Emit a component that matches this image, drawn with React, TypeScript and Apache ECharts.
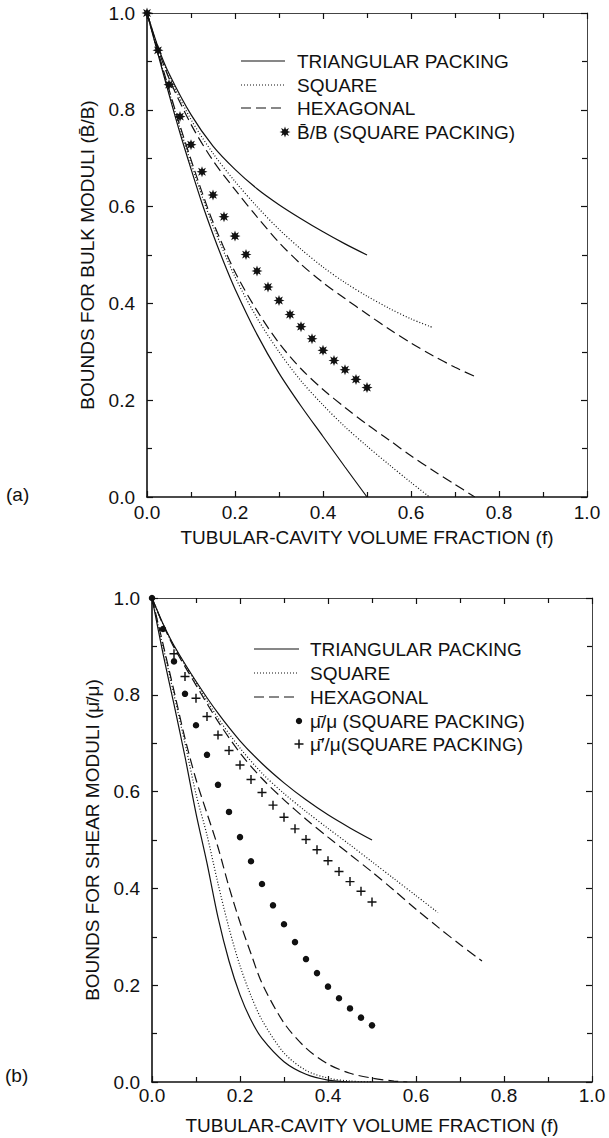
import React, { useEffect, useRef } from "react";
import * as echarts from "echarts";

// ---------- DATA ----------
const axisMin = 0;
const axisMax = 1;
const axisInterval = 0.2;

// (a) Bulk moduli bounds: [volume fraction f, ratio]
const bulkTriangularUpper = [[0, 1], [0.025, 0.93], [0.05, 0.875], [0.1, 0.79], [0.15, 0.725], [0.2, 0.677], [0.25, 0.637], [0.3, 0.604], [0.35, 0.575], [0.4, 0.548], [0.45, 0.523], [0.5, 0.5]];
const bulkSquareUpper = [[0, 1], [0.025, 0.928], [0.05, 0.87], [0.1, 0.78], [0.15, 0.71], [0.2, 0.652], [0.25, 0.6], [0.3, 0.553], [0.35, 0.512], [0.4, 0.475], [0.45, 0.443], [0.5, 0.415], [0.55, 0.39], [0.6, 0.368], [0.65, 0.35]];
const bulkHexagonalUpper = [[0, 1], [0.025, 0.926], [0.05, 0.865], [0.1, 0.77], [0.15, 0.695], [0.2, 0.635], [0.25, 0.579], [0.3, 0.526], [0.35, 0.481], [0.4, 0.443], [0.45, 0.41], [0.5, 0.378], [0.55, 0.347], [0.6, 0.318], [0.65, 0.292], [0.7, 0.268], [0.75, 0.247]];
const bulkTriangularLower = [[0, 1], [0.025, 0.915], [0.05, 0.832], [0.075, 0.752], [0.1, 0.678], [0.125, 0.607], [0.15, 0.543], [0.175, 0.484], [0.2, 0.43], [0.25, 0.336], [0.3, 0.256], [0.35, 0.188], [0.4, 0.125], [0.45, 0.062], [0.5, 0]];
const bulkSquareLower = [[0, 1], [0.025, 0.918], [0.05, 0.838], [0.075, 0.762], [0.1, 0.69], [0.125, 0.622], [0.15, 0.56], [0.2, 0.455], [0.25, 0.37], [0.3, 0.3], [0.35, 0.24], [0.4, 0.19], [0.45, 0.145], [0.5, 0.105], [0.55, 0.067], [0.6, 0.03], [0.642, 0]];
const bulkHexagonalLower = [[0, 1], [0.025, 0.92], [0.05, 0.842], [0.075, 0.767], [0.1, 0.697], [0.125, 0.63], [0.15, 0.568], [0.2, 0.465], [0.25, 0.385], [0.3, 0.318], [0.35, 0.265], [0.4, 0.222], [0.45, 0.185], [0.5, 0.15], [0.55, 0.118], [0.6, 0.085], [0.65, 0.055], [0.7, 0.026], [0.745, 0]];
const bulkPointF = [0, 0.025, 0.05, 0.075, 0.1, 0.125, 0.15, 0.175, 0.2, 0.225, 0.25, 0.275, 0.3, 0.325, 0.35, 0.375, 0.4, 0.425, 0.45, 0.475, 0.5];
const bulkSquarePacking = [1.0, 0.923, 0.852, 0.786, 0.728, 0.672, 0.624, 0.579, 0.539, 0.501, 0.467, 0.434, 0.406, 0.377, 0.352, 0.327, 0.303, 0.282, 0.263, 0.243, 0.226];

// (b) Shear moduli bounds
const shearTriangularUpper = [[0, 1], [0.025, 0.947], [0.05, 0.902], [0.1, 0.828], [0.15, 0.762], [0.2, 0.705], [0.25, 0.658], [0.3, 0.618], [0.35, 0.583], [0.4, 0.552], [0.45, 0.525], [0.5, 0.5]];
const shearSquareUpper = [[0, 1], [0.025, 0.946], [0.05, 0.9], [0.1, 0.825], [0.15, 0.752], [0.2, 0.69], [0.25, 0.638], [0.3, 0.596], [0.35, 0.559], [0.4, 0.524], [0.45, 0.49], [0.5, 0.455], [0.55, 0.42], [0.6, 0.385], [0.65, 0.35]];
const shearHexagonalUpper = [[0, 1], [0.025, 0.945], [0.05, 0.898], [0.1, 0.82], [0.15, 0.745], [0.2, 0.68], [0.25, 0.627], [0.3, 0.583], [0.35, 0.543], [0.4, 0.506], [0.45, 0.47], [0.5, 0.434], [0.55, 0.396], [0.6, 0.357], [0.65, 0.32], [0.7, 0.284], [0.75, 0.25]];
const shearTriangularLower = [[0, 1], [0.025, 0.885], [0.05, 0.78], [0.075, 0.672], [0.1, 0.555], [0.125, 0.452], [0.15, 0.34], [0.175, 0.25], [0.2, 0.18], [0.225, 0.128], [0.25, 0.09], [0.3, 0.042], [0.35, 0.016], [0.4, 0.004], [0.45, 0]];
const shearSquareLower = [[0, 1], [0.025, 0.9], [0.05, 0.8], [0.075, 0.7], [0.1, 0.595], [0.125, 0.51], [0.15, 0.41], [0.175, 0.318], [0.2, 0.24], [0.225, 0.178], [0.25, 0.128], [0.3, 0.06], [0.35, 0.024], [0.4, 0.008], [0.45, 0.002], [0.5, 0]];
const shearHexagonalLower = [[0, 1], [0.025, 0.905], [0.05, 0.808], [0.075, 0.71], [0.1, 0.625], [0.125, 0.555], [0.15, 0.485], [0.175, 0.403], [0.2, 0.33], [0.225, 0.265], [0.25, 0.204], [0.3, 0.122], [0.35, 0.07], [0.4, 0.037], [0.45, 0.018], [0.5, 0.008], [0.55, 0.002], [0.58, 0]];
const shearDotF = [0, 0.025, 0.05, 0.075, 0.1, 0.125, 0.15, 0.175, 0.2, 0.225, 0.25, 0.275, 0.3, 0.325, 0.35, 0.375, 0.4, 0.425, 0.45, 0.475, 0.5];
const shearSquarePacking = [1.0, 0.936, 0.869, 0.802, 0.737, 0.676, 0.614, 0.558, 0.506, 0.456, 0.409, 0.365, 0.326, 0.289, 0.254, 0.225, 0.197, 0.173, 0.152, 0.133, 0.117];
const shearCrossF = [0.05, 0.075, 0.1, 0.125, 0.15, 0.175, 0.2, 0.225, 0.25, 0.275, 0.3, 0.325, 0.35, 0.375, 0.4, 0.425, 0.45, 0.475, 0.5];
const shearPrimeSquarePacking = [0.885, 0.838, 0.793, 0.755, 0.717, 0.685, 0.655, 0.625, 0.598, 0.572, 0.547, 0.523, 0.501, 0.48, 0.457, 0.435, 0.414, 0.394, 0.372];

const legendA = ["TRIANGULAR PACKING", "SQUARE", "HEXAGONAL", "B\u0304/B (SQUARE PACKING)"];
const legendB = ["TRIANGULAR PACKING", "SQUARE", "HEXAGONAL", "\u03BC\u0304/\u03BC (SQUARE PACKING)", "\u03BC\u0304\u2032/\u03BC(SQUARE PACKING)"];
const xTitle = "TUBULAR-CAVITY VOLUME FRACTION (f)";
const yTitleA = "BOUNDS FOR BULK MODULI (B\u0304/B)";
const yTitleB = "BOUNDS FOR SHEAR MODULI (\u03BC\u0304/\u03BC)";

// ---------- STYLE ----------
const INK = "#111111";
const FONT = '"Liberation Sans", Arial, Helvetica, sans-serif';
const FS = 19;
const DOTTED = [1, 2];
const DASHED = [10, 5];

function starPoints(cx: number, cy: number, ro: number, ri: number, n = 8) {
  const pts: number[][] = [];
  for (let i = 0; i < 2 * n; i++) {
    const r = i % 2 === 0 ? ro : ri;
    const a = (Math.PI * i) / n - Math.PI / 2;
    pts.push([cx + r * Math.cos(a), cy + r * Math.sin(a)]);
  }
  return pts;
}
const starSymbol =
  "path://" +
  starPoints(10, 10, 10, 5)
    .map((p, i) => (i === 0 ? "M" : "L") + p[0].toFixed(2) + "," + p[1].toFixed(2))
    .join("") +
  "Z";
const crossSymbol = "path://M4.2,0h1.6v4.2h4.2v1.6h-4.2v4.2h-1.6v-4.2h-4.2v-1.6h4.2z";

const fmt = (v: number) => v.toFixed(1);

function tickCommon(gridIndex: number) {
  return {
    type: "value",
    gridIndex,
    min: axisMin,
    max: axisMax,
    interval: axisInterval,
    splitLine: { show: false },
    minorSplitLine: { show: false },
    axisTick: { show: true, inside: true, length: 6, lineStyle: { color: INK, width: 1.2 } },
    minorTick: { show: true, splitNumber: 2, length: 5, lineStyle: { color: INK, width: 1.2 } },
  };
}

function xAxes(gridIndex: number, nameGap: number, labelMargin: number) {
  const common = tickCommon(gridIndex);
  return [
    {
      ...common,
      position: "bottom",
      name: xTitle,
      nameLocation: "middle",
      nameGap,
      nameTextStyle: { fontSize: FS, color: INK, fontFamily: FONT },
      axisLine: { show: true, onZero: false, lineStyle: { color: INK, width: 1.6 } },
      axisLabel: { show: true, fontSize: FS, color: INK, fontFamily: FONT, margin: labelMargin, formatter: fmt },
    },
    {
      ...common,
      position: "top",
      axisLine: { show: true, onZero: false, lineStyle: { color: "#444", width: 1 } },
      axisLabel: { show: false },
    },
  ];
}

function yAxes(gridIndex: number, title: string) {
  const common = tickCommon(gridIndex);
  return [
    {
      ...common,
      position: "left",
      name: title,
      nameLocation: "middle",
      nameGap: 50,
      nameRotate: 90,
      nameTextStyle: { fontSize: FS, color: INK, fontFamily: FONT },
      axisLine: { show: true, onZero: false, lineStyle: { color: INK, width: 1.6 } },
      axisLabel: { show: true, fontSize: FS, color: INK, fontFamily: FONT, margin: 12, formatter: fmt },
    },
    {
      ...common,
      position: "right",
      axisLine: { show: true, onZero: false, lineStyle: { color: "#444", width: 1 } },
      axisLabel: { show: false },
    },
  ];
}

function curve(name: string, data: number[][], axis: number, dash: any) {
  return {
    name,
    type: "line",
    xAxisIndex: axis,
    yAxisIndex: axis,
    data,
    symbol: "none",
    smooth: 0.3,
    clip: true,
    lineStyle: { color: INK, width: 1.2, type: dash },
  };
}

function pairs(xs: number[], ys: number[]) {
  return xs.map((x, i) => [x, ys[i]]);
}

function legendGraphics(
  labels: string[],
  x1: number,
  x2: number,
  textX: number,
  rows: number[],
  markers: string[]
) {
  const g: any[] = [];
  const dashes = [null, DOTTED, DASHED];
  for (let i = 0; i < 3; i++) {
    g.push({
      type: "line",
      shape: { x1, y1: rows[i], x2, y2: rows[i] },
      style: { stroke: INK, lineWidth: 1.2, lineDash: dashes[i] || undefined },
    });
  }
  markers.forEach((m, j) => {
    const y = rows[3 + j];
    if (m === "star") {
      g.push({ type: "polygon", shape: { points: starPoints(x2, y, 5.5, 2.8) }, style: { fill: INK } });
    } else if (m === "dot") {
      g.push({ type: "circle", shape: { cx: x2, cy: y, r: 3.2 }, style: { fill: INK } });
    } else if (m === "cross") {
      g.push({ type: "line", shape: { x1: x2 - 4.5, y1: y, x2: x2 + 4.5, y2: y }, style: { stroke: INK, lineWidth: 1.5 } });
      g.push({ type: "line", shape: { x1: x2, y1: y - 4.5, x2: x2, y2: y + 4.5 }, style: { stroke: INK, lineWidth: 1.5 } });
    }
  });
  labels.forEach((t, i) => {
    g.push({
      type: "text",
      x: textX,
      y: rows[i],
      style: { text: t, fontSize: FS, fontFamily: FONT, fill: INK, align: "left", verticalAlign: "middle" },
    });
  });
  return g;
}

export default function App() {
  const ref = useRef<HTMLDivElement>(null);

  useEffect(() => {
    if (!ref.current) return;
    const chart = echarts.init(ref.current, undefined, { renderer: "svg" });
    const xa = xAxes(0, 31, 6);
    const xb = xAxes(1, 34, 4);
    const ya = yAxes(0, yTitleA);
    const yb = yAxes(1, yTitleB);

    const option: any = {
      animation: false,
      backgroundColor: "#ffffff",
      textStyle: { fontFamily: FONT, color: INK },
      grid: [
        { left: 147, top: 13, width: 440, height: 484, containLabel: false },
        { left: 152, top: 598, width: 440, height: 484, containLabel: false },
      ],
      xAxis: [...xa, ...xb],
      yAxis: [...ya, ...yb],
      series: [
        curve("TRIANGULAR PACKING", bulkTriangularUpper, 0, "solid"),
        curve("SQUARE", bulkSquareUpper, 0, DOTTED),
        curve("HEXAGONAL", bulkHexagonalUpper, 0, DASHED),
        curve("TRIANGULAR PACKING lower", bulkTriangularLower, 0, "solid"),
        curve("SQUARE lower", bulkSquareLower, 0, DOTTED),
        curve("HEXAGONAL lower", bulkHexagonalLower, 0, DASHED),
        {
          name: legendA[3],
          type: "scatter",
          xAxisIndex: 0,
          yAxisIndex: 0,
          data: pairs(bulkPointF, bulkSquarePacking),
          symbol: starSymbol,
          symbolSize: 11,
          itemStyle: { color: INK, opacity: 1 },
        },
        curve("TRIANGULAR PACKING (b)", shearTriangularUpper, 2, "solid"),
        curve("SQUARE (b)", shearSquareUpper, 2, DOTTED),
        curve("HEXAGONAL (b)", shearHexagonalUpper, 2, DASHED),
        curve("TRIANGULAR PACKING lower (b)", shearTriangularLower, 2, "solid"),
        curve("SQUARE lower (b)", shearSquareLower, 2, DOTTED),
        curve("HEXAGONAL lower (b)", shearHexagonalLower, 2, DASHED),
        {
          name: legendB[3],
          type: "scatter",
          xAxisIndex: 2,
          yAxisIndex: 2,
          data: pairs(shearDotF, shearSquarePacking),
          symbol: "circle",
          symbolSize: 6.5,
          itemStyle: { color: INK, opacity: 1 },
        },
        {
          name: legendB[4],
          type: "scatter",
          xAxisIndex: 2,
          yAxisIndex: 2,
          data: pairs(shearCrossF, shearPrimeSquarePacking),
          symbol: crossSymbol,
          symbolSize: 9,
          itemStyle: { color: INK, opacity: 1 },
        },
      ],
      graphic: [
        ...legendGraphics(legendA, 241, 285, 297, [61, 85, 108, 132], ["star"]),
        ...legendGraphics(legendB, 254, 299, 310, [649, 673, 697, 721, 744], ["dot", "cross"]),
        {
          type: "text",
          x: 6,
          y: 494,
          style: { text: "(a)", fontSize: FS, fontFamily: FONT, fill: INK, align: "left", verticalAlign: "middle" },
        },
        {
          type: "text",
          x: 5,
          y: 1075,
          style: { text: "(b)", fontSize: FS, fontFamily: FONT, fill: INK, align: "left", verticalAlign: "middle" },
        },
      ],
    };
    chart.setOption(option);
    return () => chart.dispose();
  }, []);

  return (
    <div
      ref={ref}
      style={{ position: "absolute", left: 0, top: 0, width: 609, height: 1138, background: "#fff" }}
    />
  );
}
